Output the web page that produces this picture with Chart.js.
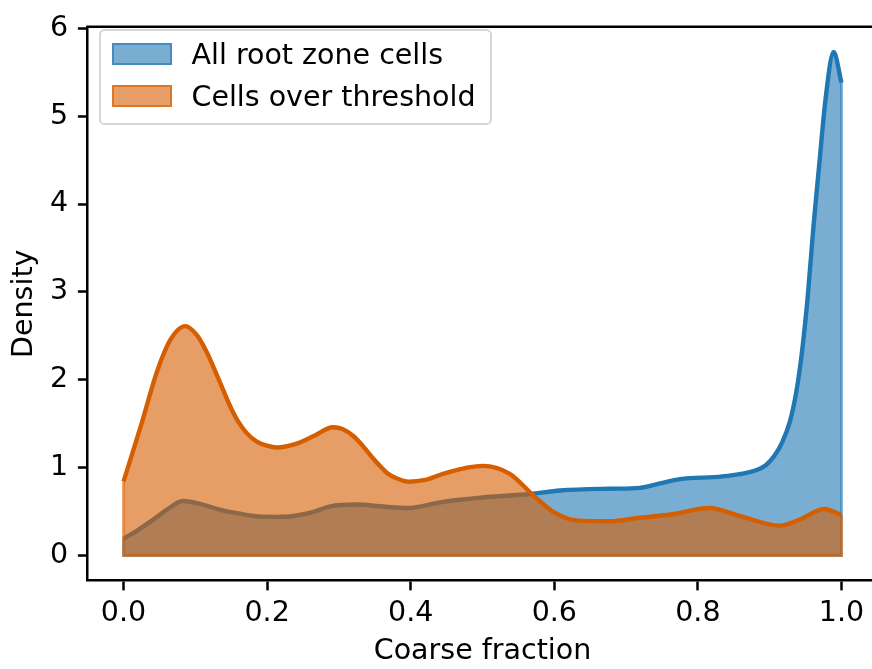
<!DOCTYPE html>
<html>
<head>
<meta charset="utf-8">
<script src="https://cdn.jsdelivr.net/npm/chart.js@4/dist/chart.umd.min.js"></script>
<style>
html,body{margin:0;padding:0;background:#fff;overflow:hidden;width:872px;height:669px;}
#wrap{position:relative;width:880px;height:669px;}
#c{position:absolute;left:0;top:0;}
.lg-frame{position:absolute;left:99.3px;top:29.3px;width:392.8px;height:95.4px;box-sizing:border-box;border:2.8px solid rgba(204,204,204,0.8);border-radius:5.6px;background:rgba(255,255,255,0.8);}
.lg-patch{position:absolute;left:111.7px;width:60px;height:21.7px;box-sizing:border-box;border-width:2.8px;border-style:solid;}
.lg-text{position:absolute;left:191.5px;font-family:"DejaVu Sans";font-size:28.5px;line-height:28.5px;white-space:nowrap;color:#000;}
</style>
</head>
<body>
<div id="wrap">
  <canvas id="c" width="880" height="669" style="width:880px;height:669px;"></canvas>
  <div class="lg-frame"></div>
  <div class="lg-patch" id="p0" style="top:43.3px;"></div>
  <div class="lg-text" id="t0" style="top:41.0px;"></div>
  <div class="lg-patch" id="p1" style="top:85.4px;"></div>
  <div class="lg-text" id="t1" style="top:82.7px;"></div>
</div>
<script>
// ---- data ----
const seriesNames = ["All root zone cells", "Cells over threshold"];

const allX = [0, 0.02, 0.04, 0.06, 0.083, 0.11, 0.135, 0.16, 0.181, 0.21, 0.237, 0.262, 0.288, 0.325, 0.357, 0.395, 0.445, 0.50, 0.566, 0.608, 0.677, 0.719, 0.747, 0.775, 0.834, 0.881, 0.895, 0.907, 0.918, 0.928, 0.937, 0.945, 0.953, 0.961, 0.969, 0.978, 0.989, 1.0];
const allY = [0.19, 0.29, 0.40, 0.52, 0.62, 0.58, 0.52, 0.48, 0.45, 0.44, 0.45, 0.49, 0.56, 0.58, 0.56, 0.54, 0.61, 0.66, 0.70, 0.74, 0.76, 0.77, 0.82, 0.87, 0.90, 0.97, 1.03, 1.14, 1.30, 1.52, 1.86, 2.32, 2.95, 3.75, 4.45, 5.21, 5.73, 5.38];

const overX = [0, 0.024, 0.047, 0.065, 0.086, 0.102, 0.115, 0.125, 0.137, 0.149, 0.16, 0.172, 0.185, 0.2, 0.214, 0.24, 0.265, 0.292, 0.305, 0.32, 0.333, 0.345, 0.357, 0.367, 0.38, 0.397, 0.42, 0.445, 0.50, 0.538, 0.570, 0.598, 0.631, 0.677, 0.719, 0.765, 0.816, 0.858, 0.914, 0.942, 0.976, 1.0];
const overY = [0.84, 1.47, 2.10, 2.45, 2.61, 2.51, 2.33, 2.15, 1.92, 1.69, 1.52, 1.39, 1.30, 1.25, 1.23, 1.27, 1.36, 1.46, 1.44, 1.36, 1.25, 1.13, 1.02, 0.94, 0.88, 0.84, 0.86, 0.93, 1.02, 0.93, 0.69, 0.50, 0.40, 0.39, 0.43, 0.47, 0.54, 0.45, 0.34, 0.41, 0.53, 0.46];

const xTickValues = [0, 0.2, 0.4, 0.6, 0.8, 1.0];
const yTickValues = [0, 1, 2, 3, 4, 5, 6];

// ---- styling ----
const BLUE = 'rgb(31,119,180)', BLUE_A = 'rgba(31,119,180,0.6)';
const ORANGE = 'rgb(213,94,0)', ORANGE_A = 'rgba(213,94,0,0.6)';
const FS = 28.5;

const toPts = (xs, ys) => xs.map((x, i) => ({x: x, y: ys[i]}));
const edgePts = (xs, ys) => {
  const n = xs.length - 1;
  return [{x: xs[n], y: ys[n]}, {x: xs[n], y: 0}, {x: xs[0], y: 0}, {x: xs[0], y: ys[0]}];
};

// legend (HTML, real text)
document.getElementById('t0').textContent = seriesNames[0];
document.getElementById('t1').textContent = seriesNames[1];
const p0 = document.getElementById('p0'); p0.style.background = BLUE_A; p0.style.borderColor = BLUE_A;
const p1 = document.getElementById('p1'); p1.style.background = ORANGE_A; p1.style.borderColor = ORANGE_A;

Chart.defaults.font.family = 'DejaVu Sans';
Chart.defaults.font.size = FS;
Chart.defaults.color = '#000';

const topSpine = {
  id: 'topSpine',
  afterDraw(c) {
    const {ctx, chartArea: a} = c;
    ctx.save();
    ctx.strokeStyle = '#000';
    ctx.lineWidth = 2.5;
    ctx.beginPath();
    ctx.moveTo(a.left - 1.25, a.top);
    ctx.lineTo(a.right + 1.25, a.top);
    ctx.stroke();
    ctx.restore();
  }
};

const curveCommon = {pointRadius: 0, pointHoverRadius: 0, cubicInterpolationMode: 'monotone'};

new Chart(document.getElementById('c'), {
  type: 'line',
  data: {
    datasets: [
      Object.assign({label: seriesNames[1] + ' line', data: toPts(overX, overY), borderColor: ORANGE, borderWidth: 4.4, fill: false, order: 0, borderJoinStyle: 'round'}, curveCommon),
      {label: seriesNames[1] + ' edge', data: edgePts(overX, overY), borderColor: ORANGE_A, borderWidth: 2.8, fill: false, pointRadius: 0, tension: 0, order: 1},
      Object.assign({label: seriesNames[1] + ' fill', data: toPts(overX, overY), borderColor: 'rgba(0,0,0,0)', borderWidth: 0.01, backgroundColor: ORANGE_A, fill: 'origin', order: 2}, curveCommon),
      Object.assign({label: seriesNames[0] + ' line', data: toPts(allX, allY), borderColor: BLUE, borderWidth: 4.4, fill: false, order: 3, borderJoinStyle: 'round'}, curveCommon),
      {label: seriesNames[0] + ' edge', data: edgePts(allX, allY), borderColor: BLUE_A, borderWidth: 2.8, fill: false, pointRadius: 0, tension: 0, order: 4},
      Object.assign({label: seriesNames[0] + ' fill', data: toPts(allX, allY), borderColor: 'rgba(0,0,0,0)', borderWidth: 0.01, backgroundColor: BLUE_A, fill: 'origin', order: 5}, curveCommon)
    ]
  },
  options: {
    responsive: false,
    animation: false,
    events: [],
    layout: {padding: {top: 16, right: 2.6, left: 0, bottom: 0}},
    plugins: {legend: {display: false}, tooltip: {enabled: false}},
    scales: {
      x: {
        type: 'linear',
        min: -0.05, max: 1.05,
        afterBuildTicks: s => { s.ticks = xTickValues.map(v => ({value: v})); },
        afterFit: s => { s.height = 88.3; },
        ticks: {callback: v => Number(v).toFixed(1), padding: 6.2, maxRotation: 0, autoSkip: false, color: '#000', font: {size: FS}},
        grid: {drawOnChartArea: false, tickLength: 9.7, tickWidth: 2.5, tickColor: '#000'},
        border: {color: '#000', width: 2.5, z: 1},
        title: {display: true, text: 'Coarse fraction', color: '#000', font: {size: FS}, padding: {top: 0, bottom: 0}}
      },
      y: {
        type: 'linear',
        min: -0.2865, max: 6.0165,
        afterBuildTicks: s => { s.ticks = yTickValues.map(v => ({value: v})); },
        afterFit: s => { s.width = 87.6; },
        ticks: {callback: v => String(v), padding: 9.7, autoSkip: false, color: '#000', font: {size: FS}},
        grid: {drawOnChartArea: false, tickLength: 9.7, tickWidth: 2.5, tickColor: '#000'},
        border: {color: '#000', width: 2.5, z: 1},
        title: {display: true, text: 'Density', color: '#000', font: {size: FS}, padding: {top: 7.0, bottom: 0}}
      }
    }
  },
  plugins: [topSpine]
});
</script>
</body>
</html>
